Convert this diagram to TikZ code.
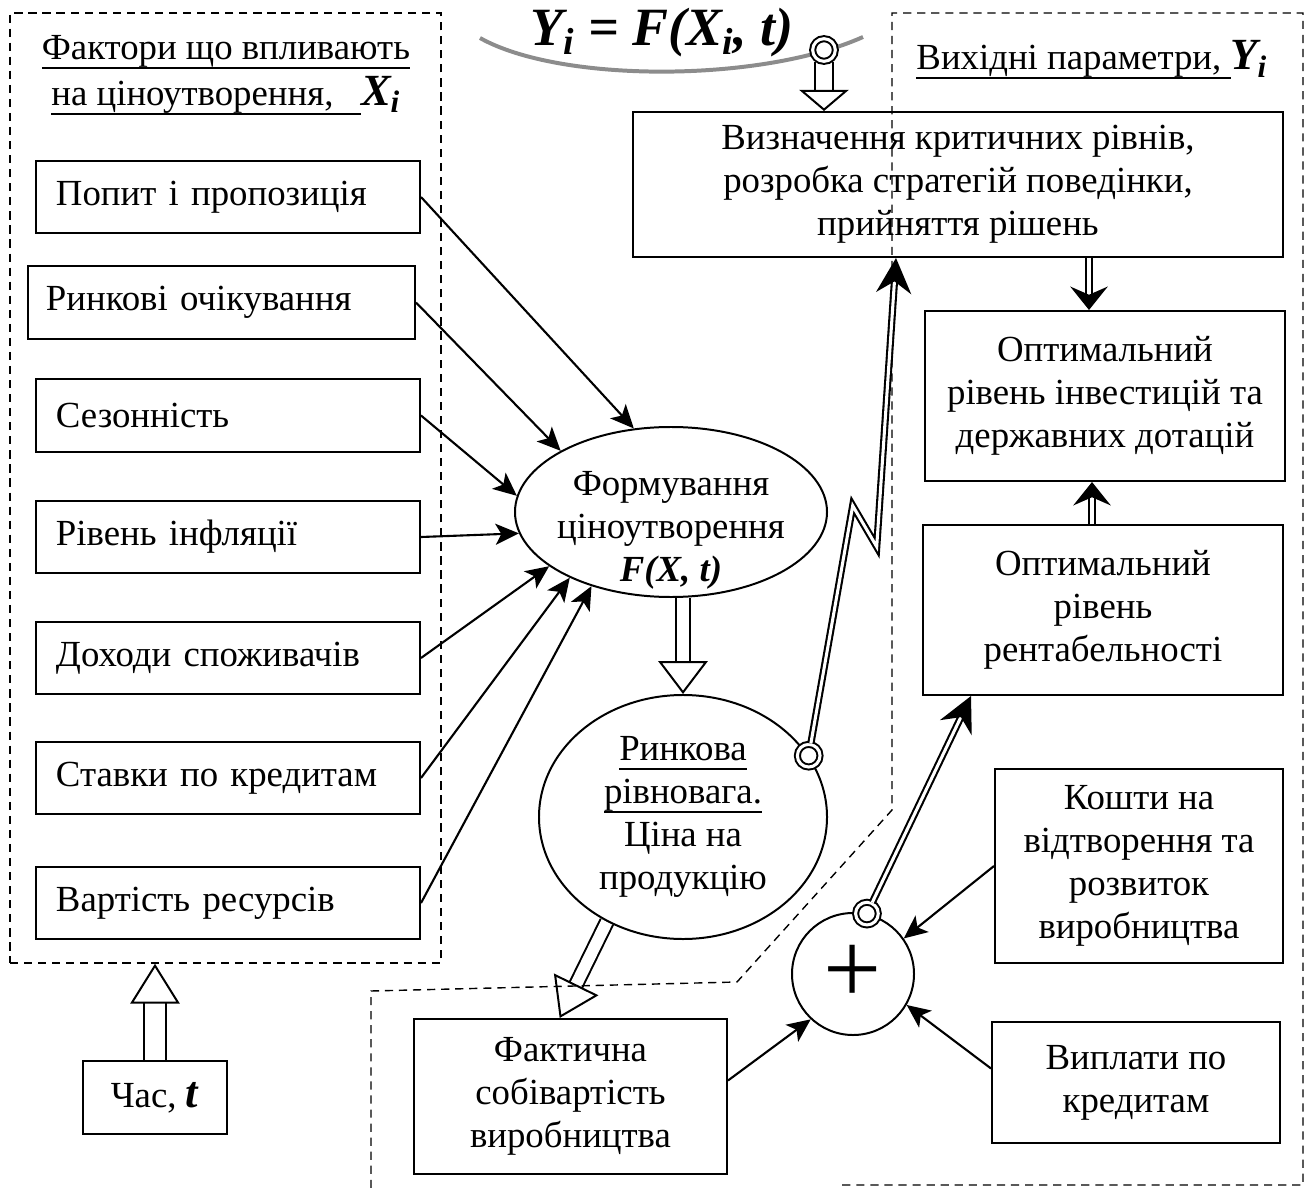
\documentclass[tikz,border=0pt]{standalone}
\usepackage{fontspec}
\setmainfont{Liberation Serif}
\usepackage{tikz}
\usetikzlibrary{arrows.meta, positioning, shapes.geometric, calc, backgrounds}

\definecolor{arcgray}{RGB}{140,140,140}
\newcommand{\undl}[1]{\setbox0=\hbox{#1}\rlap{\rule[-4pt]{\wd0}{0.8pt}}\box0}
\newcommand{\bi}[1]{\textbf{\textit{#1}}}

\tikzset{
  factor/.style={draw, line width=0.85pt, anchor=west, text width=5.16cm, inner xsep=0.3cm, minimum height=1.09cm},
  block/.style={draw, line width=0.85pt, align=center, inner sep=0pt},
  conn/.style={line width=0.9pt, -{Stealth[length=10pt, width=9pt, inset=2.5pt]}},
  dbl/.style={double, line width=0.9pt, double distance=1.3pt, -{Stealth[length=15pt, width=15pt, inset=5pt]}},
  hollow/.style 2 args={double, line width=0.85pt, double distance=#1, -{Triangle[length=#2, width=21pt, fill=white]}},
  ringmark/.style={circle, draw, double, line width=0.85pt, double distance=1.3pt, fill=white, minimum size=0.34cm, inner sep=0pt},
  frame/.style={line width=0.6pt, dash pattern=on 3.5pt off 2.5pt}
}

\begin{document}
\begin{tikzpicture}[x=0.015cm, y=-0.015cm, font=\fontsize{15.7pt}{18.3pt}\selectfont]
  \useasboundingbox (0,0) rectangle (1313,1188);

  \node[draw, frame, minimum width=6.465cm, minimum height=14.25cm] (lbox) at (225.5,488) {};
  \draw[frame] (371,1188) -- (371,991) -- (737,982) -- (892,810) -- (892,13) -- (1303,13) -- (1303,1185) -- (840,1185);

  \node[align=center, font=\fontsize{15.7pt}{19.5pt}\selectfont] (ltitle) at (226,75)
    {\undl{Фактори що впливають}\\\undl{на ціноутворення,\ \ \ }{\fontsize{19pt}{19pt}\selectfont\bi{X\textsubscript{i}}}};
  \node (rtitle) at (1092,60) {\undl{Вихідні параметри, }{\fontsize{19pt}{19pt}\selectfont\bi{Y\textsubscript{i}}}};

  \draw[arcgray, line width=1.7pt] (480,38) .. controls (560,83) and (760,83) .. (863,37);
  \node[font=\fontsize{23pt}{23pt}\selectfont] (formula) at (662,33) {\bi{Y\textsubscript{i} = F(X\textsubscript{i}, t)}};

  \node[factor] (f1) at (35,197) {Попит і пропозиція};
  \node[factor, text width=5.265cm, inner xsep=0.27cm] (f2) at (27,302.5) {Ринкові очікування};
  \node[factor] (f3) at (35,415.5) {Сезонність};
  \node[factor] (f4) at (35,537) {Рівень інфляції};
  \node[factor] (f5) at (35,658) {Доходи споживачів};
  \node[factor] (f6) at (35,778) {Ставки по кредитам};
  \node[factor] (f7) at (35,903) {Вартість ресурсів};

  \node[ellipse, draw, line width=0.85pt, minimum width=4.68cm, minimum height=2.55cm, inner sep=0pt] (form) at (671,512) {};
  \node[align=center] (formtxt) at (671,530) {Формування\\ціноутворення\\\bi{F(X, t)}};
  \node[ellipse, draw, line width=0.85pt, minimum width=4.32cm, minimum height=3.66cm, inner sep=0pt, align=center] (rynok) at (683,817)
    {\undl{Ринкова}\\\undl{рівновага.}\\Ціна на\\продукцію};

  \node[block, minimum width=9.75cm, minimum height=2.175cm] (top) at (958,184.5) {Визначення критичних рівнів,\\розробка стратегій поведінки,\\прийняття рішень};
  \node[block, minimum width=5.4cm, minimum height=2.55cm] (inv) at (1105,396) {Оптимальний\\рівень інвестицій та\\державних дотацій};
  \node[block, minimum width=5.4cm, minimum height=2.55cm] (rent) at (1103,610) {Оптимальний\\рівень\\рентабельності};
  \node[block, minimum width=4.32cm, minimum height=2.91cm] (kosht) at (1139,866) {Кошти на\\відтворення та\\розвиток\\виробництва};
  \node[block, minimum width=4.32cm, minimum height=1.815cm] (vypl) at (1136,1082.5) {Виплати по\\кредитам};
  \node[block, minimum width=4.695cm, minimum height=2.325cm] (fakt) at (570.5,1096.5) {Фактична\\собівартість\\виробництва};
  \node[block, minimum width=2.16cm, minimum height=1.095cm] (chas) at (155,1097.5) {Час, {\fontsize{19pt}{19pt}\selectfont\bi{t}}};
  \node[circle, draw, line width=0.85pt, minimum size=1.83cm, inner sep=0pt, font=\fontsize{44pt}{44pt}\selectfont] (plus) at (853,974) {+};

  \node[ringmark] (mtop) at (824,50) {};
  \node[ringmark] (mryn) at (rynok.26) {};
  \node[ringmark] (mplus) at (plus.77) {};

  \draw[conn] (f1.east) -- (form.114);
  \draw[conn] (f2.east) -- (form.151);
  \draw[conn] (f3.east) -- (form.174);
  \draw[conn] (f4.east) -- (form.188);
  \draw[conn] (f5.east) -- (form.204);
  \draw[conn] (f6.east) -- (form.213);
  \draw[conn] (f7.east) -- (form.223);

  \draw[conn] (kosht.west) -- (plus.35);
  \draw[conn] ([yshift=0.21cm]vypl.west) -- (plus.-30);
  \draw[conn] ([yshift=0.24cm]fakt.east) -- (plus.227);

  \draw[dbl] (mryn) -- ++(44,-250) -- ++(24,41) -- ([xshift=3.96cm]top.south west);
  \draw[dbl] (mplus) -- ([xshift=0.735cm]rent.south west);
  \draw[dbl, -{Stealth[length=10pt, width=16pt, inset=3.5pt]}] ([xshift=-0.24cm]inv.north |- top.south) -- ([xshift=-0.24cm]inv.north);
  \draw[dbl, -{Stealth[length=10pt, width=16pt, inset=3.5pt]}] ([xshift=-0.165cm]rent.north) -- ([xshift=-0.165cm]rent.north |- inv.south);

  \begin{scope}[on background layer]
    \draw[hollow={5pt}{14pt}] (form.south -| rynok.north) -- (rynok.north);
    \draw[hollow={7pt}{9pt}] (mtop.south) -- (mtop.south |- top.north);
    \draw[hollow={8.5pt}{17pt}] (chas.north) -- (lbox.south -| chas.north);
    \draw[hollow={5pt}{16pt}] (rynok.234) -- ([xshift=2.2cm]fakt.north west);
  \end{scope}
\end{tikzpicture}
\end{document}
